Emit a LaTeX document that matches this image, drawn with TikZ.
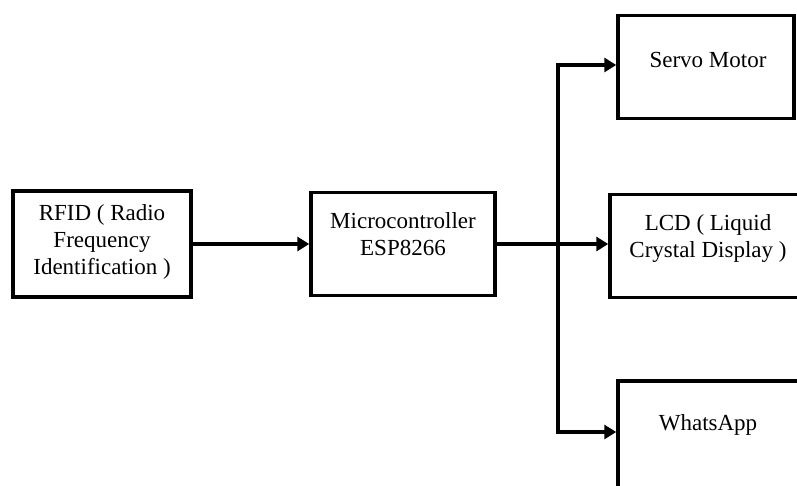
\documentclass[tikz,border=0pt]{standalone}
\usepackage{fontspec}
\setmainfont{Liberation Serif}
\usetikzlibrary{arrows.meta, positioning, calc}

\begin{document}
\begin{tikzpicture}[x=1pt, y=-1pt,
    blk/.style={draw, line width=3.5pt, minimum width=176pt, minimum height=103pt, inner sep=0pt},
    txt/.style={align=center, inner sep=0pt, font=\fontsize{23}{27}\selectfont},
    arr/.style={line width=4pt, -{Triangle[length=12pt, width=14pt]}}]
				% Frame
				\useasboundingbox (0,0) rectangle (797,485);
				\clip (0,0) rectangle (797,485);
				
				% Blocks
				\node[blk, minimum width=178pt, minimum height=106pt] (rfid) at (102,244) {};
				\node[blk, minimum width=184pt] (micro) at (403,244) {};
				\node[blk] (servo) at (706,67) {};
				\node[blk, minimum width=200pt] (lcd) at (710,246) {};
				\node[blk, minimum width=200pt, minimum height=120pt] (whats) at (718,441) {};
				
				% Texts
				\node[txt] (rfidtext) at (102,242) {RFID ( Radio\\Frequency\\Identification )};
				\node[txt] (microtext) at (403,234) {Microcontroller\\ESP8266};
				\node[txt] (servotext) at (708,60) {Servo Motor};
				\node[txt] (lcdtext) at (708,238) {LCD ( Liquid\\Crystal Display )};
				\node[txt] (whatstext) at (708,425) {WhatsApp};
				
				% Connections
				\coordinate (bus) at (558,244);
				\coordinate (servoin) at (servo.west |- 0,65);
				\coordinate (whatsin) at (whats.west |- 0,432);
				\draw[arr] (rfid.east) -- (micro.west);
				\draw[arr] (micro.east) -- (bus -| lcd.west);
				\draw[arr, line join=miter] (bus) |- (servoin);
				\draw[arr, line join=miter] (bus) |- (whatsin);
			\end{tikzpicture}
\end{document}
